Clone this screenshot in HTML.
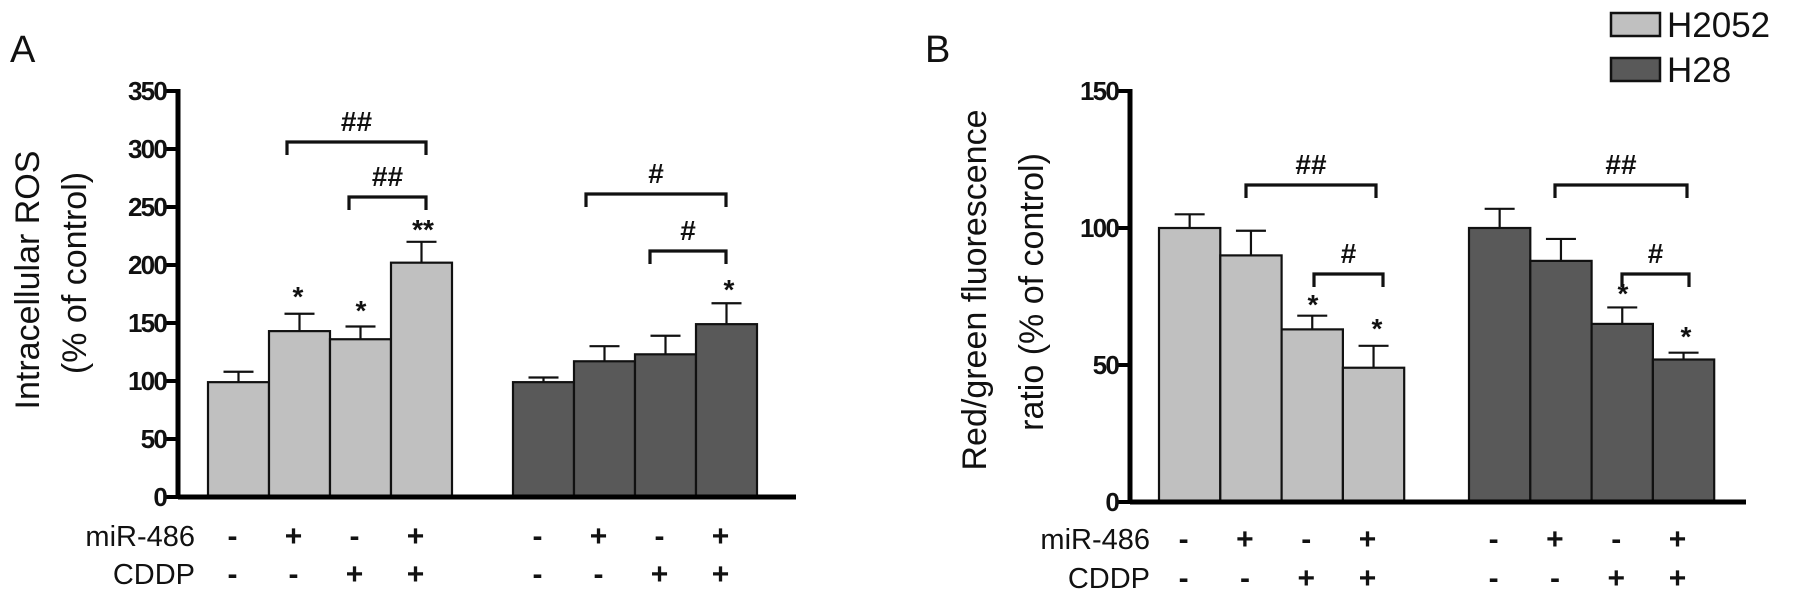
<!DOCTYPE html>
<html><head><meta charset="utf-8"><style>
html,body{margin:0;padding:0;background:#fff;}
svg{display:block;font-family:"Liberation Sans",sans-serif;}
</style></head><body>
<svg id="fig" width="1795" height="605" viewBox="0 0 1795 605" xmlns="http://www.w3.org/2000/svg">
<g id="root"></g>
</svg>
<script>
// Panel A data
const aTicks = [0,50,100,150,200,250,300,350];
const aH2052 = [99,143,136,202];
const aH2052Err = [108,158,147,220];
const aH28 = [99,117,123,149];
const aH28Err = [103,130,139,167];
// Panel B data
const bTicks = [0,50,100,150];
const bH2052 = [100,90,63,49];
const bH2052Err = [105,99,68,57];
const bH28 = [100,88,65,52];
const bH28Err = [107,96,71,54.5];
const miR = ['-','+','-','+'];
const cddp = ['-','-','+','+'];

const NS='http://www.w3.org/2000/svg';
const root=document.getElementById('root');
function mk(tag,attrs,parent){const e=document.createElementNS(NS,tag);for(const k in attrs)e.setAttribute(k,attrs[k]);(parent||root).appendChild(e);return e;}
function txt(s,attrs,parent){const e=mk('text',attrs,parent);e.textContent=s;return e;}

function panel(cfg){
  const g=mk('g',{});
  
  
  const y=v=>cfg.y0-(v/cfg.max)*(cfg.y0-cfg.yTop);
  const groups=[[cfg.g1,cfg.g1e,cfg.x1,'#c0c0c0','h2052'],[cfg.g2,cfg.g2e,cfg.x2,'#595959','h28']];
  groups.forEach(([vals,errs,x0,col,nm])=>{
    vals.forEach((v,i)=>{
      const bx=x0+i*cfg.bw, cx=bx+cfg.bw/2;
      const er=mk('g',{stroke:'#111','stroke-width':2.2},g);
      
      
      mk('line',{x1:cx,x2:cx,y1:y(v),y2:y(errs[i])},er);
      mk('line',{x1:cx-15,x2:cx+15,y1:y(errs[i]),y2:y(errs[i])},er);
      const r=mk('rect',{x:bx,y:y(v),width:cfg.bw,height:cfg.y0-y(v),fill:col,stroke:'#111','stroke-width':2.2},g);
      
      
    });
  });
  const ya=mk('line',{x1:cfg.ax,x2:cfg.ax,y1:cfg.yTop-2,y2:cfg.y0+2,stroke:'#000','stroke-width':5},g);
  
  
  const xa=mk('line',{x1:cfg.ax,x2:cfg.xEnd,y1:cfg.y0,y2:cfg.y0,stroke:'#000','stroke-width':5},g);
  
  
  cfg.ticks.forEach(t=>{
    mk('line',{x1:cfg.ax-12,x2:cfg.ax,y1:y(t),y2:y(t),stroke:'#000','stroke-width':4},g);
    const l=txt(String(t),{x:cfg.ax-12,y:y(t)+9,'text-anchor':'end','font-size':26,'font-weight':'bold','letter-spacing':'-1.8',fill:'#111'},g);
    
    
  });
  cfg.brackets.forEach(b=>{
    const p=mk('path',{d:`M${b[0]},${b[2]+13}V${b[2]}H${b[1]}V${b[2]+13}`,fill:'none',stroke:'#111','stroke-width':3.2},g);
    
    
    const s=txt(b[3],{x:(b[0]+b[1])/2,y:b[2]-11,'text-anchor':'middle','font-size':28,'font-weight':'bold',fill:'#111'},g);
    
    
  });
  cfg.stars.forEach(s=>{
    const t=txt(s[2],{x:s[0],y:s[1]+13,'text-anchor':'middle','font-size':28,'font-weight':'bold',fill:'#111'},g);
    
    
  });
  const r1=txt('miR-486',{x:cfg.rowX,y:cfg.row1+10,'text-anchor':'end','font-size':29,fill:'#111'},g);
  
  
  const r2=txt('CDDP',{x:cfg.rowX,y:cfg.row2+10,'text-anchor':'end','font-size':29,fill:'#111'},g);
  
  
  [cfg.x1,cfg.x2].forEach(x0=>{
    for(let i=0;i<4;i++){
      const cx=x0+i*cfg.bw+cfg.bw/2+cfg.signOff;
      const a=txt(miR[i],{x:cx,y:cfg.row1+10,'text-anchor':'middle','font-size':30,'font-weight':'bold',fill:'#111'},g);
      
      
      const c=txt(cddp[i],{x:cx,y:cfg.row2+10,'text-anchor':'middle','font-size':30,'font-weight':'bold',fill:'#111'},g);
      
      
    }
  });
  cfg.titles.forEach(t=>{
    const e=txt(t[0],{x:0,y:0,transform:`translate(${t[1]},${t[2]}) rotate(-90)`,'text-anchor':'middle','font-size':34,fill:'#111'},g);
    
    
  });
  const pl=txt(cfg.letter,{x:cfg.letterX,y:62,'font-size':38,fill:'#111'},g);
  
  
}

panel({name:'panel-a',letter:'A',letterX:10,ticks:aTicks,max:350,y0:497,yTop:91,ax:178,xEnd:796,
  g1:aH2052,g1e:aH2052Err,g2:aH28,g2e:aH28Err,x1:208,x2:513,bw:61,
  brackets:[[287,426,142,'##'],[349,426,197,'##'],[586,726,194,'#'],[650,726,251,'#']],
  stars:[[298,293,'*'],[361,307,'*'],[423,226,'**'],[729,286,'*']],
  rowX:195,row1:536,row2:574,signOff:-6,
  titles:[['Intracellular ROS',39,280],['(% of control)',86,273]]});

panel({name:'panel-b',letter:'B',letterX:925,ticks:bTicks,max:150,y0:502,yTop:91,ax:1130,xEnd:1746,
  g1:bH2052,g1e:bH2052Err,g2:bH28,g2e:bH28Err,x1:1159,x2:1469,bw:61.3,
  brackets:[[1246,1376,185,'##'],[1314,1383,274,'#'],[1555,1687,185,'##'],[1622,1689,274,'#']],
  stars:[[1313,301,'*'],[1377,325,'*'],[1623,290,'*'],[1686,333,'*']],
  rowX:1150,row1:539,row2:578,signOff:-6,
  titles:[['Red/green fluorescence',986,290],['ratio (% of control)',1043,292]]});

const lg=mk('g',{});


[['H2052','#c0c0c0',13],['H28','#595959',58]].forEach(([n,c,yy])=>{
  const r=mk('rect',{x:1611,y:yy,width:49,height:23,fill:c,stroke:'#111','stroke-width':2.5},lg);
  
  
  const t=txt(n,{x:1667,y:yy+24,'font-size':35,fill:'#111'},lg);
  
  
});
</script>
</body></html>
